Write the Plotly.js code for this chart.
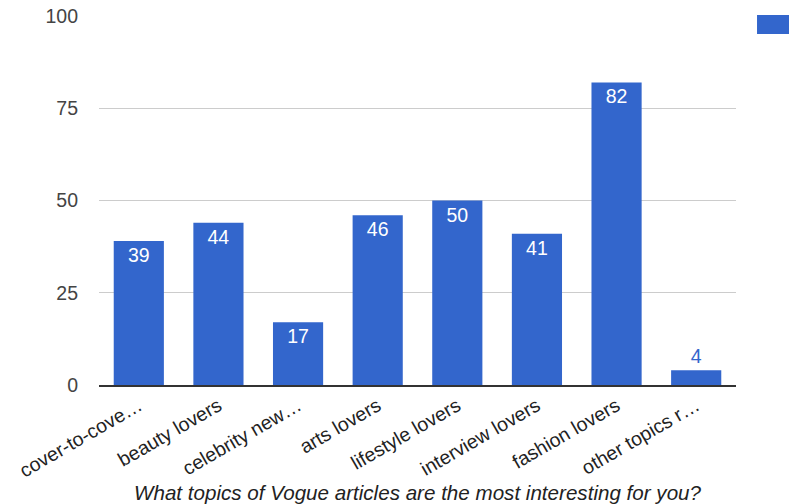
<!DOCTYPE html>
<html>
<head>
<meta charset="utf-8">
<script src="https://cdn.plot.ly/plotly-3.0.1.min.js"></script>
<style>
  html, body { margin: 0; padding: 0; background: #fff; }
  #chart { width: 789px; height: 504px; }
</style>
</head>
<body>
<div id="chart"></div>
<script>
// Survey answers: which Vogue topics readers find most interesting
const categories = [
  "cover-to-cove\u2026",
  "beauty lovers",
  "celebrity new\u2026",
  "arts lovers",
  "lifestyle lovers",
  "interview lovers",
  "fashion lovers",
  "other topics r\u2026"
];
const responses = [39, 44, 17, 46, 50, 41, 82, 4];
const yTicks = [0, 25, 50, 75, 100];

const barColor = "#3366cc";
const font = "Liberation Sans, Arial, sans-serif";
const fs = 19.5;

const trace = {
  type: "bar",
  x: categories,
  y: responses,
  text: responses.map(String),
  textposition: responses.map(v => v < 10 ? "outside" : "inside"),
  insidetextanchor: "end",
  insidetextfont: { family: font, size: fs, color: "#ffffff" },
  outsidetextfont: { family: font, size: fs, color: barColor },
  textangle: 0,
  constraintext: "none",
  cliponaxis: false,
  marker: { color: barColor },
  hoverinfo: "x+y",
  showlegend: false
};

const layout = {
  width: 789,
  height: 504,
  margin: { l: 99, r: 53, t: 16, b: 119 },
  paper_bgcolor: "#ffffff",
  plot_bgcolor: "#ffffff",
  bargap: 0.37,
  font: { family: font, size: fs, color: "#444" },
  xaxis: {
    type: "category",
    tickangle: -30,
    tickfont: { family: font, size: fs, color: "#222" },
    ticks: "",
    showgrid: false,
    showline: true,
    linecolor: "#333",
    linewidth: 2,
    automargin: false,
    title: {
      text: "<i>What topics of Vogue articles are the most interesting for you?</i>",
      font: { family: font, size: 20.6, color: "#222" },
      standoff: 0
    }
  },
  yaxis: {
    range: [0, 100],
    tickvals: yTicks,
    ticktext: yTicks.map(String),
    tickfont: { family: font, size: fs, color: "#444" },
    gridcolor: "#cccccc",
    gridwidth: 1,
    zeroline: false,
    showline: false,
    ticks: "",
    automargin: false,
    ticklabelstandoff: 20
  },
  shapes: [
    // series key swatch, cut off at the right edge
    {
      type: "rect", xref: "paper", yref: "paper",
      x0: 1.033, x1: 1.09, y0: 0.951, y1: 1.003,
      fillcolor: barColor, line: { width: 0 }
    }
  ]
};

Plotly.newPlot("chart", [trace], layout, { displayModeBar: false, staticPlot: true });
</script>
</body>
</html>
